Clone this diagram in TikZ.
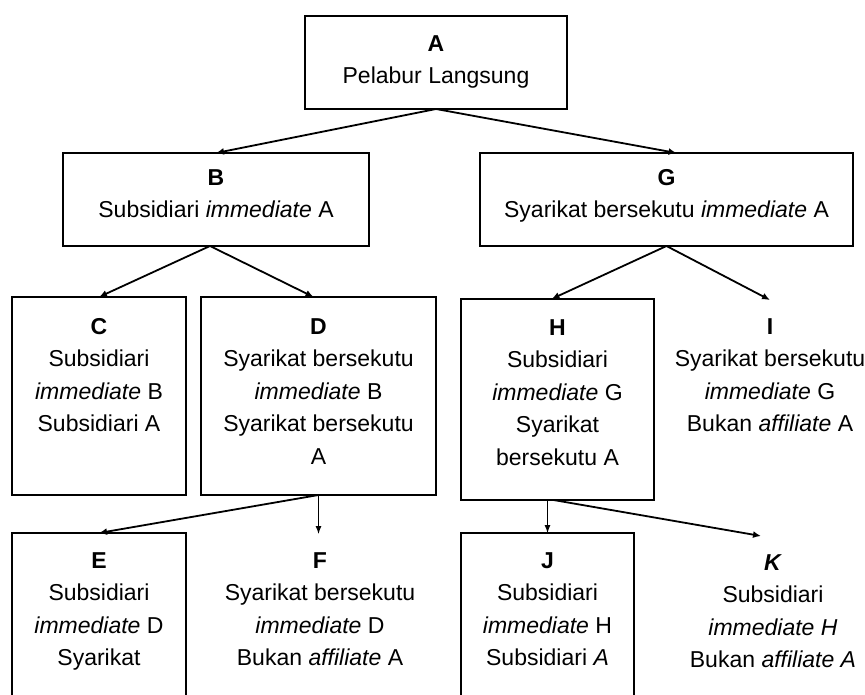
\documentclass[tikz,border=0pt]{standalone}
\usepackage{fontspec}
\setmainfont{Liberation Sans}
\usetikzlibrary{arrows.meta, positioning}
\newcommand{\chartfont}{\fontsize{23}{32.5}\selectfont}

\begin{document}
\begin{tikzpicture}[x=1pt, y=-1pt,
    box/.style={draw, line width=1.8pt, inner sep=0pt, outer sep=0pt},
    txt/.style={align=center, inner sep=0pt, font=\chartfont},
    free/.style={txt, inner ysep=18pt, anchor=north},
    link/.style={line width=1.8pt, -{Latex[length=8pt, width=7pt]}},
    thinlink/.style={line width=1pt, -{Latex[length=8pt, width=6pt]}}]
    \useasboundingbox (0,0) rectangle (865,695);
    \clip (0,0) rectangle (865,695);

    % boxes
    \node[box, minimum width=262pt, minimum height=93pt] (A) at (436,62.5) {};
    \node[box, minimum width=306pt, minimum height=93pt] (B) at (216,199.5) {};
    \node[box, minimum width=373pt, minimum height=93pt] (G) at (666.5,199.5) {};
    \node[box, minimum width=174pt, minimum height=198pt] (C) at (99,396) {};
    \node[box, minimum width=235pt, minimum height=198pt] (D) at (318.5,396) {};
    \node[box, minimum width=193pt, minimum height=201pt] (H) at (557.5,399.5) {};
    \node[box, minimum width=174pt, minimum height=182pt] (E) at (99,624) {};
    \node[box, minimum width=173pt, minimum height=182pt] (J) at (547.5,624) {};

    % texts
    \node[txt, below=19pt of A.north] (A-txt) {\textbf{A}\\Pelabur Langsung};
    \node[txt, below=16pt of B.north] (B-txt) {\textbf{B}\\Subsidiari \textit{immediate} A};
    \node[txt, below=16pt of G.north] (G-txt) {\textbf{G}\\Syarikat bersekutu \textit{immediate} A};
    \node[txt, below=21pt of C.north] (C-txt) {\textbf{C}\\Subsidiari\\\textit{immediate} B\\Subsidiari A};
    \node[txt, below=21pt of D.north] (D-txt) {\textbf{D}\\Syarikat bersekutu\\\textit{immediate} B\\Syarikat bersekutu\\A};
    \node[txt, below=20pt of H.north] (H-txt) {\textbf{H}\\Subsidiari\\\textit{immediate} G\\Syarikat\\bersekutu A};
    \node[txt, below=19pt of E.north] (E-txt) {\textbf{E}\\Subsidiari\\\textit{immediate} D\\Syarikat};
    \node[txt, below=19pt of J.north] (J-txt) {\textbf{J}\\Subsidiari\\\textit{immediate} H\\Subsidiari \textit{A}};
    \node[free] (I) at (770,300) {\textbf{I}\\Syarikat bersekutu\\\textit{immediate} G\\Bukan \textit{affiliate} A};
    \node[free] (F) at (320,534) {\textbf{F}\\Syarikat bersekutu\\\textit{immediate} D\\Bukan \textit{affiliate} A};
    \node[free] (K) at (773,536) {\textbf{\textit{K}}\\Subsidiari\\\textit{immediate H}\\Bukan \textit{affiliate A}};

    % links
    \draw[link] (A.south) -- (B.north);
    \draw[link] (A.south) -- ([xshift=10pt]G.north);
    \draw[link] ([xshift=-6pt]B.south) -- (C.north);
    \draw[link] ([xshift=-6pt]B.south) -- ([xshift=-5pt]D.north);
    \draw[link] (G.south) -- ([xshift=-6pt]H.north);
    \draw[link] (G.south) -- (I.north);
    \draw[link] (D.south) -- (E.north);
    \draw[thinlink] (D.south) -- (D.south |- F.north);
    \draw[thinlink] (J.north |- H.south) -- (J.north);
    \draw[link] ([xshift=-4pt]H.south) -- ([xshift=-12pt]K.north);
\end{tikzpicture}
\end{document}
